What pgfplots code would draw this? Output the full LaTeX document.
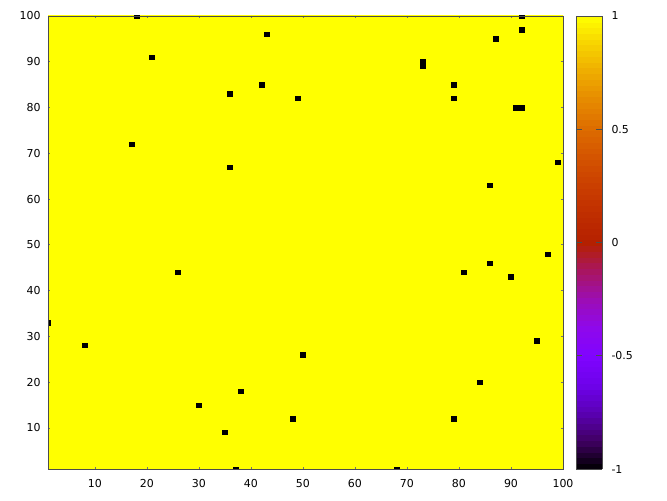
\documentclass[border=0pt]{standalone}
\usepackage{fontspec}
\setmainfont{DejaVu Sans}
\usepackage{pgfplots}
\usepackage{pgfplotstable}
\pgfplotsset{compat=1.18}
\definecolor{gpyellow}{RGB}{255,255,0}

% cells of the 100x100 matrix whose value is -1 (all other cells are 1)
\pgfplotstableread{
x y v
18 100 -1
43 96 -1
21 91 -1
42 85 -1
36 83 -1
49 82 -1
17 72 -1
36 67 -1
92 100 -1
92 97 -1
87 95 -1
73 89 -1
73 90 -1
79 85 -1
79 82 -1
91 80 -1
92 80 -1
99 68 -1
86 63 -1
26 44 -1
1 33 -1
8 28 -1
50 26 -1
38 18 -1
30 15 -1
48 12 -1
35 9 -1
37 1 -1
97 48 -1
86 46 -1
81 44 -1
90 43 -1
95 29 -1
84 20 -1
79 12 -1
68 1 -1
}\cells

\begin{document}
\begin{tikzpicture}
\begin{axis}[
  scale only axis, width=515bp, height=453bp,
  xmin=1, xmax=100, ymin=1, ymax=100,
  xtick={10,20,...,100}, ytick={10,20,...,100},
  tick align=inside, major tick length=2bp,
  tick style={black!55, line width=0.6bp},
  axis line style={black!70, line width=0.9bp},
  axis on top,
  clip marker paths=true,
  font=\fontsize{11}{13}\selectfont,
  /pgf/number format/assume math mode=true,
  xticklabel shift=7bp,
  yticklabel shift=4bp,
  colormap={gnu}{rgb=(0,0,0) rgb=(.25,0,.383) rgb=(.354,.002,.707) rgb=(.433,.007,.924)
    rgb=(.5,.016,1) rgb=(.559,.031,.924) rgb=(.612,.053,.707) rgb=(.661,.084,.383)
    rgb=(.707,.125,0) rgb=(.75,.178,0) rgb=(.791,.244,0) rgb=(.829,.325,0)
    rgb=(.866,.422,0) rgb=(.901,.536,0) rgb=(.935,.670,0) rgb=(.968,.824,0) rgb=(1,1,0)},
  point meta min=-1, point meta max=1,
  colorbar sampled,
  colorbar style={
    at={(parent axis.north east)}, anchor=north west, xshift=4.5bp,
    scale only axis, width=26bp,
    samples=80,
    ytick={-1,-0.5,0,0.5,1},
    yticklabel style={/pgf/number format/fixed},
    ytick pos=both, yticklabel pos=right,
    tick align=inside, major tick length=6bp,
    tick style={black!70, line width=0.8bp},
    axis line style={black!70, line width=0.9bp},
    axis on top,
    yticklabel shift=6bp,
    font=\fontsize{11}{13}\selectfont,
    /pgf/number format/assume math mode=true,
  },
]
\coordinate (ll) at (rel axis cs:0,0);
\coordinate (ur) at (rel axis cs:1,1);
\addplot[draw=none, fill=gpyellow] coordinates {(0.5,0.5) (100.5,0.5) (100.5,100.5) (0.5,100.5)} -- cycle;
\addplot[scatter, only marks, mark=square*, mark size=2.5bp,
  point meta=\thisrow{v},
  scatter/use mapped color={draw=none, fill=mapped color},
  mark options={yscale=0.88}] table[x=x, y=y] {\cells};
\end{axis}
\pgfresetboundingbox
\path ([shift={(-48bp,-31bp)}]ll) rectangle ([shift={(104bp,16bp)}]ur);
\end{tikzpicture}
\end{document}
